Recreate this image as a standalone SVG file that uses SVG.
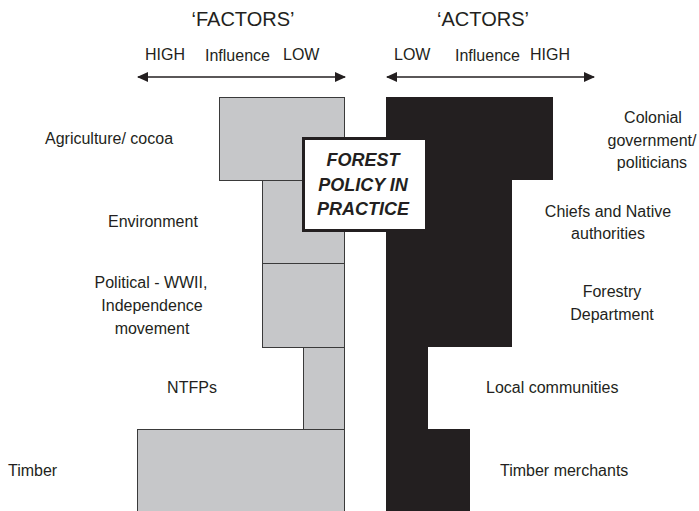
<svg xmlns="http://www.w3.org/2000/svg" width="699" height="511" viewBox="0 0 699 511">
<style>
text{font-family:"Liberation Sans",Arial,sans-serif;fill:#231f20}
.t{font-size:20px}
.l{font-size:16px}
.c{text-anchor:middle}
.g{fill:#c6c7c9;stroke:#3a3a3a;stroke-width:1}
.b{fill:#231f20}
.ax{stroke:#231f20;stroke-width:1.5;fill:none}
.fp{font-size:18px;font-weight:bold;font-style:italic;text-anchor:middle}
</style>
<defs>
<marker id="ah" viewBox="0 0 11 10" refX="10" refY="5" markerWidth="11" markerHeight="10" markerUnits="userSpaceOnUse" orient="auto-start-reverse">
<path d="M0,0 L11,5 L0,10 z" fill="#231f20"/>
</marker>
</defs>
<rect width="699" height="511" fill="#fff"/>
<g id="headers">
<text class="t c" x="243" y="26">‘FACTORS’</text>
<text class="t c" x="483" y="26">‘ACTORS’</text>
<text class="l" x="145" y="60">HIGH</text>
<text class="l" x="205" y="61">Influence</text>
<text class="l" x="283" y="60">LOW</text>
<text class="l" x="394" y="60">LOW</text>
<text class="l" x="455" y="61">Influence</text>
<text class="l" x="530" y="60">HIGH</text>
</g>
<g id="connectors">
<line class="ax" x1="138" y1="77" x2="345" y2="77" marker-start="url(#ah)" marker-end="url(#ah)"/>
<line class="ax" x1="387" y1="77" x2="594" y2="77" marker-start="url(#ah)" marker-end="url(#ah)"/>
</g>
<g id="factors">
<g id="f-agriculture"><rect class="g" x="219.5" y="97.5" width="125" height="83"/><text class="l" x="45" y="144">Agriculture/ cocoa</text></g>
<g id="f-environment"><rect class="g" x="262.5" y="180.5" width="82" height="83"/><text class="l" x="108" y="227">Environment</text></g>
<g id="f-political"><rect class="g" x="262.5" y="263.5" width="82" height="84"/><text class="l c" x="151" y="288">Political - WWII,</text><text class="l c" x="152" y="311">Independence</text><text class="l c" x="152" y="334">movement</text></g>
<g id="f-ntfps"><rect class="g" x="303.5" y="347.5" width="41" height="82"/><text class="l c" x="192" y="393">NTFPs</text></g>
<g id="f-timber"><rect class="g" x="137.5" y="429.5" width="207" height="90"/><text class="l" x="8" y="476">Timber</text></g>
</g>
<g id="actors">
<path id="actors-shape" class="b" d="M386,97 H553 V180 H512 V347 H428 V429 H470 V520 H386 Z"/>
<g id="a-colonial"><text class="l c" x="653" y="123">Colonial</text><text class="l c" x="652" y="146">government/</text><text class="l c" x="652" y="168">politicians</text></g>
<g id="a-chiefs"><text class="l c" x="608" y="217">Chiefs and Native</text><text class="l c" x="608" y="239">authorities</text></g>
<g id="a-forestry"><text class="l c" x="612" y="297">Forestry</text><text class="l c" x="612" y="320">Department</text></g>
<g id="a-local"><text class="l" x="486" y="393">Local communities</text></g>
<g id="a-timber"><text class="l" x="500" y="476">Timber merchants</text></g>
</g>
<g id="forest-policy">
<rect x="303.5" y="138.5" width="123" height="92" fill="#fff" stroke="#231f20" stroke-width="3"/>
<text class="fp" x="363" y="166">FOREST</text>
<text class="fp" x="363" y="191">POLICY IN</text>
<text class="fp" x="363" y="215">PRACTICE</text>
</g>
</svg>
